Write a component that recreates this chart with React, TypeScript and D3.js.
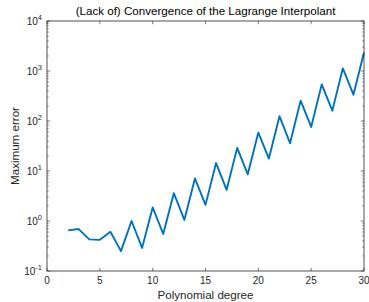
import React, { useEffect, useRef } from 'react'
import * as d3 from 'd3'

// polynomial degree n and max interpolation error
const degrees = [2, 3, 4, 5, 6, 7, 8, 9, 10, 11, 12, 13, 14, 15, 16, 17, 18, 19, 20, 21, 22, 23, 24, 25, 26, 27, 28, 29, 30]
const maxError = [0.65, 0.69, 0.43, 0.42, 0.61, 0.25, 1.0, 0.29, 1.87, 0.55, 3.6, 1.05, 7.1, 2.1, 14.4, 4.2, 29, 8.6, 58.6, 17.7, 125, 36, 255, 76, 540, 161, 1130, 336, 2340]
const xTicks = [0, 5, 10, 15, 20, 25, 30]
const yExponents = [-1, 0, 1, 2, 3, 4]

const W = 369
const H = 302

export default function App() {
    const ref = useRef<SVGSVGElement>(null)

    useEffect(() => {
        const svg = d3.select(ref.current)
        svg.selectAll('*').remove()

        const margin = { top: 21, right: 5, bottom: 31, left: 47 }
        const font = 'Liberation Sans, Arial, Helvetica, sans-serif'
        const ink = '#262626'

        const x = d3.scaleLinear().domain([0, 30]).range([margin.left, W - margin.right])
        const y = d3.scaleLog().domain([0.1, 10000]).range([H - margin.bottom, margin.top])

        const g = svg.append('g')

        // line first, box on top
        const line = d3.line<number>()
            .x((d, i) => x(degrees[i]))
            .y(d => y(d))

        g.append('path')
            .datum(maxError)
            .attr('fill', 'none')
            .attr('stroke', '#0072BD')
            .attr('stroke-width', 1.9)
            .attr('stroke-linejoin', 'round')
            .attr('d', line)

        const x0 = margin.left, x1 = W - margin.right
        const y0 = H - margin.bottom, y1 = margin.top

        // ticks on all four sides, pointing in
        const tick = 3.2
        xTicks.forEach(t => {
            g.append('line').attr('x1', x(t)).attr('x2', x(t)).attr('y1', y0).attr('y2', y0 - tick).attr('stroke', ink).attr('stroke-width', 0.6)
            g.append('line').attr('x1', x(t)).attr('x2', x(t)).attr('y1', y1).attr('y2', y1 + tick).attr('stroke', ink).attr('stroke-width', 0.6)
            g.append('text')
                .attr('x', x(t)).attr('y', y0 + 13)
                .attr('text-anchor', 'middle')
                .attr('font-family', font).attr('font-size', 10).attr('fill', ink)
                .text(t)
        })

        yExponents.forEach(e => {
            const v = Math.pow(10, e)
            g.append('line').attr('x1', x0).attr('x2', x0 + tick).attr('y1', y(v)).attr('y2', y(v)).attr('stroke', ink).attr('stroke-width', 0.6)
            g.append('line').attr('x1', x1).attr('x2', x1 - tick).attr('y1', y(v)).attr('y2', y(v)).attr('stroke', ink).attr('stroke-width', 0.6)
            if (e < 4) {
                for (let k = 2; k <= 9; k++) {
                    const m = k * v
                    g.append('line').attr('x1', x0).attr('x2', x0 + 1.8).attr('y1', y(m)).attr('y2', y(m)).attr('stroke', ink).attr('stroke-width', 0.5)
                    g.append('line').attr('x1', x1).attr('x2', x1 - 1.8).attr('y1', y(m)).attr('y2', y(m)).attr('stroke', ink).attr('stroke-width', 0.5)
                }
            }
            const label = g.append('text')
                .attr('x', x0 - 5).attr('y', y(v) + 4)
                .attr('text-anchor', 'end')
                .attr('font-family', font).attr('font-size', 10).attr('fill', ink)
            label.append('tspan').text('10')
            label.append('tspan').attr('dy', -5).attr('font-size', 7.5).text(e)
        })

        g.append('rect')
            .attr('x', x0).attr('y', y1)
            .attr('width', x1 - x0).attr('height', y0 - y1)
            .attr('fill', 'none').attr('stroke', ink).attr('stroke-width', 0.8)

        g.append('text')
            .attr('x', (x0 + x1) / 2).attr('y', 15)
            .attr('text-anchor', 'middle')
            .attr('font-family', font).attr('font-size', 11.6).attr('fill', '#000')
            .text('(Lack of) Convergence of the Lagrange Interpolant')

        g.append('text')
            .attr('x', (x0 + x1) / 2).attr('y', 299)
            .attr('text-anchor', 'middle')
            .attr('font-family', font).attr('font-size', 11.6).attr('fill', ink)
            .text('Polynomial degree')

        g.append('text')
            .attr('transform', `translate(19,${(y0 + y1) / 2}) rotate(-90)`)
            .attr('text-anchor', 'middle')
            .attr('font-family', font).attr('font-size', 11.6).attr('fill', ink)
            .text('Maximum error')
    }, [])

    return (
        <svg ref={ref} width={W} height={H}
            style={{ position: 'absolute', left: 0, top: 0, background: '#fff' }} />
    )
}
